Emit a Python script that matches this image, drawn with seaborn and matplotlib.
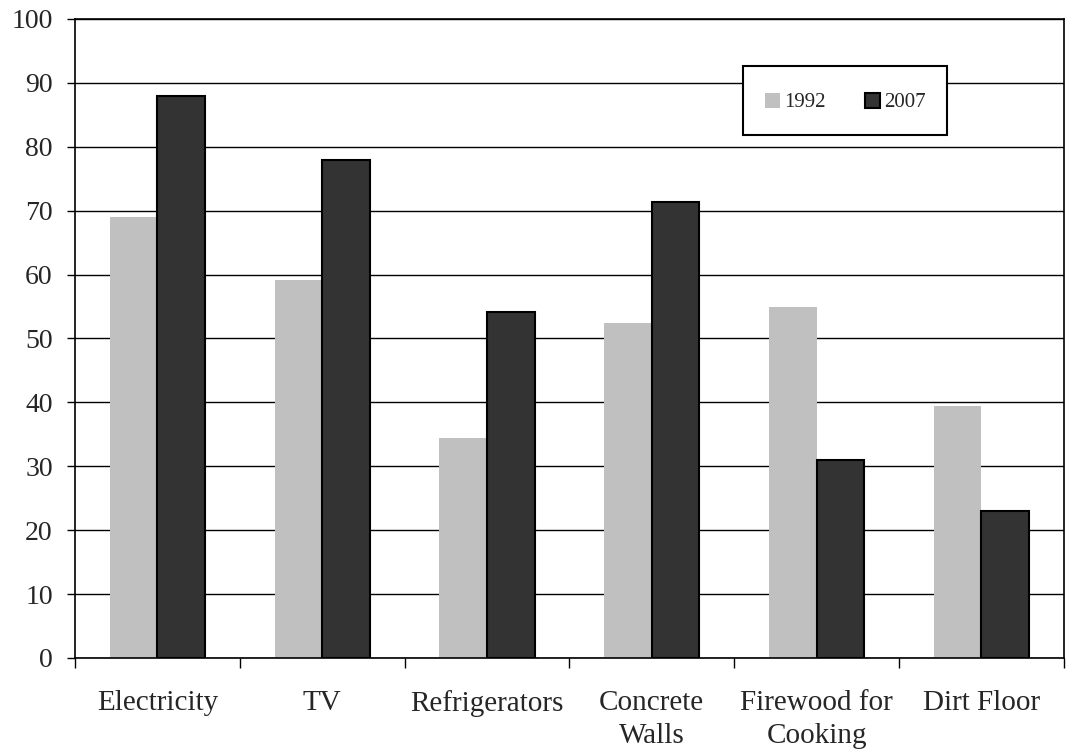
import pandas as pd
import matplotlib.pyplot as plt
import matplotlib.patches as mpatches
import seaborn as sns
from matplotlib.ticker import FixedLocator
from matplotlib.legend_handler import HandlerPatch

# Data
categories = ["Electricity", "TV", "Refrigerators", "Concrete\nWalls",
              "Firewood for\nCooking", "Dirt Floor"]
years = ["1992", "2007"]
values_1992 = [69.0, 59.1, 34.4, 52.5, 55.0, 39.5]
values_2007 = [88.0, 78.0, 54.2, 71.3, 31.0, 23.0]

data = pd.DataFrame({
    "Category": categories * 2,
    "Year": [years[0]] * len(categories) + [years[1]] * len(categories),
    "Value": values_1992 + values_2007,
})

sns.set_style("white")
plt.rcParams["font.family"] = ["Liberation Serif", "DejaVu Serif"]

f = plt.figure(figsize=(10.67, 7.5), dpi=100)
ax = f.add_axes([0.0703, 0.1227, 0.9267, 0.852])

ax = sns.barplot(
    x="Category",
    y="Value",
    hue="Year",
    data=data,
    palette=["#c0c0c0", "#333333"],
    hue_order=years,
    order=categories,
    width=0.577,
    gap=0,
    linewidth=0,
    legend=False,
    ax=ax,
)

# dark bars get a black outline, light ones none
for bar in ax.containers[1]:
    bar.set_edgecolor("black")
    bar.set_linewidth(1.5)

ax.set_ylim(0, 100)
ax.set_xlim(-0.5, len(categories) - 0.5)
ax.set_yticks(range(0, 101, 10))
ax.yaxis.grid(True, color="black", linewidth=1)
ax.set_axisbelow(True)

for s in ax.spines.values():
    s.set_visible(True)
    s.set_color("black")
    s.set_linewidth(1.2)

ax.tick_params(axis="y", which="major", length=6, width=1, color="black",
               labelsize=20, pad=10, left=True)
ax.tick_params(axis="x", which="major", length=0, labelsize=21, pad=23)
for lbl in ax.get_xticklabels():
    lbl.set_linespacing(1.33)
ax.xaxis.set_minor_locator(FixedLocator([i - 0.5 for i in range(len(categories) + 1)]))
ax.tick_params(axis="x", which="minor", length=7, width=1, color="black", bottom=True)

ax.set_xlabel("")
ax.set_ylabel("")


# small square legend keys sitting on the text baseline, in a taller key box
def square_key(legend, orig_handle, xdescent, ydescent, width, height, fontsize):
    s = 0.7 * fontsize
    return mpatches.Rectangle((-xdescent + (width - s) / 2, -0.02 * fontsize), s, s)


def copy_style(tgt, src):
    tgt.update_from(src.patches[0])


key_handler = HandlerPatch(patch_func=square_key, update_func=copy_style)

leg = ax.legend(
    ax.containers,
    years,
    ncols=2,
    loc="upper left",
    bbox_to_anchor=(0.676, 0.927),
    fontsize=15,
    frameon=True,
    fancybox=False,
    edgecolor="black",
    handlelength=0.7,
    handleheight=1.55,
    handletextpad=0.2,
    columnspacing=1.9,
    borderpad=1.05,
    borderaxespad=0,
    handler_map={c: key_handler for c in ax.containers},
)
leg.get_frame().set_linewidth(1.5)
leg.get_frame().set_alpha(1)

f.savefig("out.png")
